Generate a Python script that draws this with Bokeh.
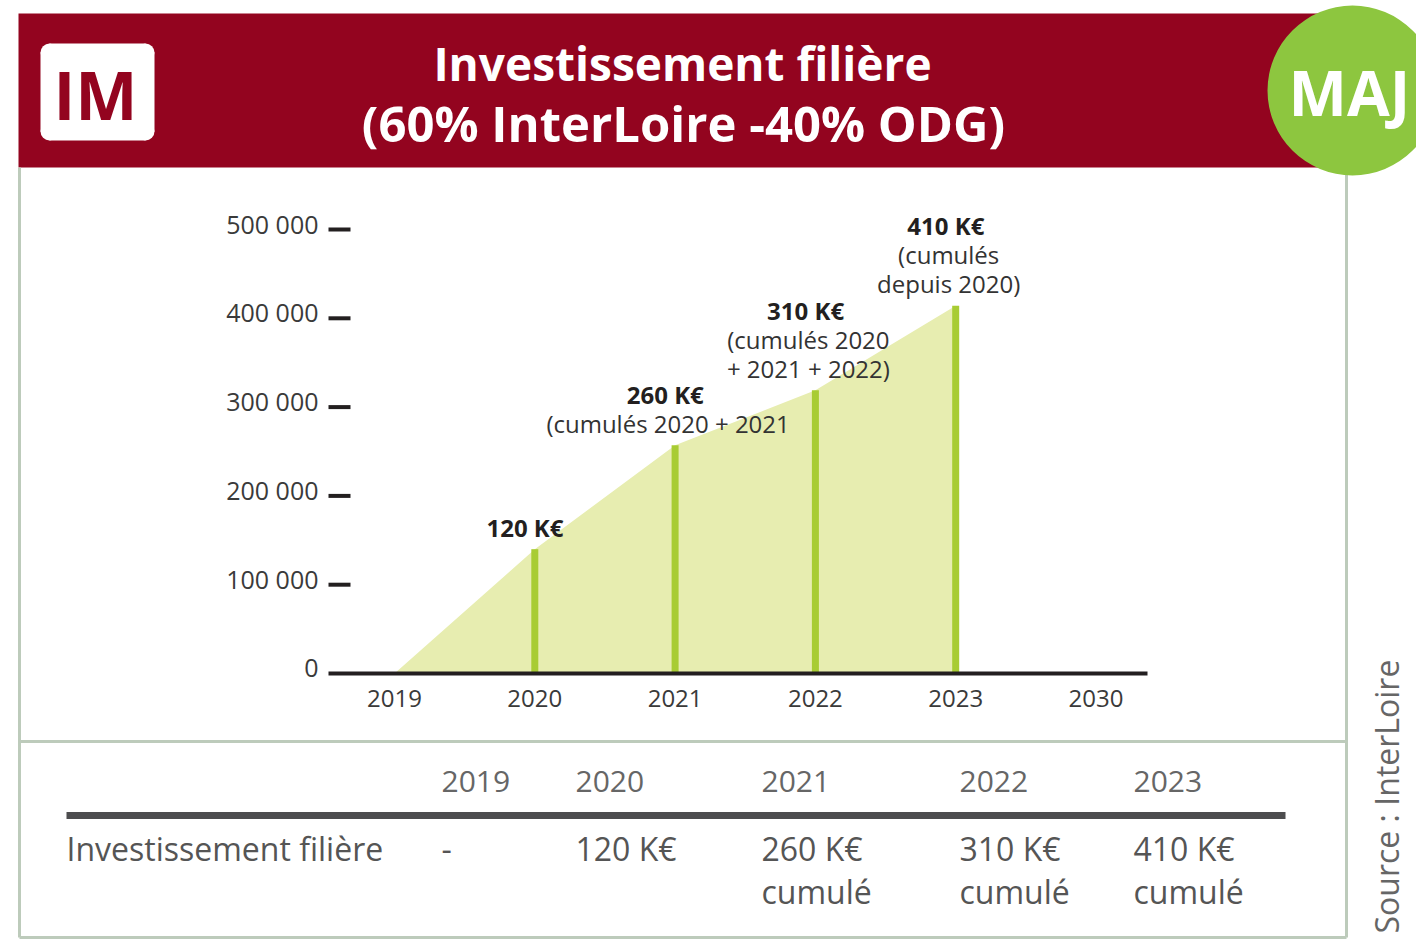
import math
from bokeh.plotting import figure
from bokeh.models import Range1d
from bokeh.core.properties import value
from bokeh.embed import file_html
from bokeh.resources import INLINE

# ---------------- data ----------------
years_axis = ["2019", "2020", "2021", "2022", "2023", "2030"]
bar_years = ["2020", "2021", "2022", "2023"]
# cumulative investment as drawn (bar heights)
cumul_drawn = [140000, 257000, 319000, 414000]
bar_labels = ["120 K€", "260 K€", "310 K€", "410 K€"]
bar_notes = [[], ["(cumulés 2020 + 2021"], ["(cumulés 2020", "+ 2021 + 2022)"], ["(cumulés", "depuis 2020)"]]
y_ticks = [0, 100000, 200000, 300000, 400000, 500000]
y_tick_labels = ["0", "100 000", "200 000", "300 000", "400 000", "500 000"]

table_years = ["2019", "2020", "2021", "2022", "2023"]
table_row_label = "Investissement filière"
table_values = ["-", "120 K€", "260 K€", "310 K€", "410 K€"]
table_values2 = ["", "", "cumulé", "cumulé", "cumulé"]

title1 = "Investissement filière"
title2 = "(60% InterLoire -40% ODG)"
source = "Source : InterLoire"

# ---------------- layout constants ----------------
W, H = 1416, 939
RED = "#93041F"
GREEN = "#8DC63F"
BAR = "#A8CC33"
AREA = "#E7EDB0"
BORDER = "#BDCBBB"
DARK = "#231F20"
GREY = "#555555"
FONT = value("Open Sans")

# chart pixel anchors (page coordinates)
X0_PX, XSTEP_PX = 394.0, 140.3      # position of first year label, spacing
Y0_PX, Y100K_PX = 673.0, 88.8       # baseline and pixels per 100 000

p = figure(width=W, height=H, output_backend="svg", toolbar_location=None,
           x_range=Range1d(0, W), y_range=Range1d(H, 0),
           x_axis_type=None, y_axis_type=None, min_border=0)
p.grid.visible = False
p.outline_line_color = None
p.background_fill_color = "white"
p.border_fill_color = "white"

# extra ranges for the data (mapped onto the full frame)
per_px = 100000.0 / Y100K_PX
p.extra_y_ranges = {"val": Range1d((Y0_PX - H) * per_px, Y0_PX * per_px)}
p.extra_x_ranges = {"idx": Range1d((0 - X0_PX) / XSTEP_PX, (W - X0_PX) / XSTEP_PX)}

# ---------------- frame / header ----------------
p.quad(left=18, right=1320, top=13, bottom=167, fill_color=RED, line_color=None)
# body borders
p.segment(x0=[19, 1346, 19, 19], y0=[167, 172, 937, 741],
          x1=[19, 1346, 1346, 1346], y1=[937, 937, 937, 741],
          line_color=BORDER, line_width=3)
# green MAJ circle
p.circle(x=[1352], y=[90], radius=85, fill_color=GREEN, line_color=None)
p.text(x=[1349], y=[91], text=["MAJ"], text_font=FONT, text_font_style="bold",
       text_font_size="62px", text_color="white", text_align="center", text_baseline="middle")

# IM logo (rounded white box)
r = 9
lx0, lx1, ly0, ly1 = 40, 154, 43, 140
p.quad(left=lx0 + r, right=lx1 - r, top=ly0, bottom=ly1, fill_color="white", line_color=None)
p.quad(left=lx0, right=lx1, top=ly0 + r, bottom=ly1 - r, fill_color="white", line_color=None)
p.circle(x=[lx0 + r, lx1 - r, lx0 + r, lx1 - r], y=[ly0 + r, ly0 + r, ly1 - r, ly1 - r],
         radius=r, fill_color="white", line_color=None)
p.text(x=[95], y=[93], text=["IM"], text_font=FONT, text_font_style="bold",
       text_font_size="66px", text_color=RED, text_align="center", text_baseline="middle")

# title
p.text(x=[682], y=[62], text=[title1], text_font=FONT, text_font_style="bold",
       text_font_size="46px", text_color="white", text_align="center", text_baseline="middle")
p.text(x=[683], y=[122], text=[title2], text_font=FONT, text_font_style="bold",
       text_font_size="49px", text_color="white", text_align="center", text_baseline="middle")

# ---------------- chart ----------------
bar_idx = [years_axis.index(y) for y in bar_years]
area_x = [0] + bar_idx
area_y = [0] + cumul_drawn
p.varea(x=area_x, y1=[0] * len(area_x), y2=area_y, fill_color=AREA,
        x_range_name="idx", y_range_name="val")
p.vbar(x=bar_idx, top=cumul_drawn, bottom=0, width=7 / XSTEP_PX, fill_color=BAR, line_color=None,
       x_range_name="idx", y_range_name="val")

# baseline
p.segment(x0=[(328 - X0_PX) / XSTEP_PX], x1=[(1147 - X0_PX) / XSTEP_PX], y0=[0], y1=[0],
          line_color=DARK, line_width=4, x_range_name="idx", y_range_name="val")
# y ticks (short dashes) and labels
p.segment(x0=[328] * (len(y_ticks) - 1), x1=[350] * (len(y_ticks) - 1), y0=y_ticks[1:], y1=y_ticks[1:],
          line_color=DARK, line_width=4, y_range_name="val")
p.text(x=[318] * len(y_ticks), y=y_ticks, text=y_tick_labels, text_font=FONT,
       text_font_size="25px", text_color="#3A3A3A", text_align="right", text_baseline="middle",
       y_offset=-6, y_range_name="val")
# x labels
p.text(x=list(range(len(years_axis))), y=[0] * len(years_axis), text=years_axis, text_font=FONT,
       text_font_size="24px", text_color="#3A3A3A", text_align="center", text_baseline="middle",
       y_offset=25, x_range_name="idx", y_range_name="val")

# bar annotations
LINE = 29
for i, (xi, v, lab, notes) in enumerate(zip(bar_idx, cumul_drawn, bar_labels, bar_notes)):
    n = len(notes)
    top_off = -22 - LINE * n
    p.text(x=[xi - 0.07], y=[v], text=[lab], text_font=FONT, text_font_style="bold",
           text_font_size="24px", text_color=DARK, text_align="center", text_baseline="middle",
           y_offset=top_off, x_range_name="idx", y_range_name="val")
    for k, note in enumerate(notes):
        p.text(x=[xi - 0.05], y=[v], text=[note], text_font=FONT,
               text_font_size="24px", text_color="#333333", text_align="center", text_baseline="middle",
               y_offset=top_off + LINE * (k + 1), x_range_name="idx", y_range_name="val")

# ---------------- table ----------------
col_left = [441, 575, 761, 959, 1133]
p.text(x=col_left, y=[781] * 5, text=table_years, text_font=FONT, text_font_size="30px",
       text_color="#666666", text_align="left", text_baseline="middle")
p.segment(x0=[66], x1=[1285], y0=[815], y1=[815], line_color="#4D4D4F", line_width=7)
p.text(x=[66], y=[848], text=[table_row_label], text_font=FONT, text_font_size="32px",
       text_color=GREY, text_align="left", text_baseline="middle")
p.text(x=col_left, y=[848] * 5, text=table_values, text_font=FONT, text_font_size="32px",
       text_color=GREY, text_align="left", text_baseline="middle")
p.text(x=col_left, y=[891] * 5, text=table_values2, text_font=FONT, text_font_size="32px",
       text_color=GREY, text_align="left", text_baseline="middle")

# source (vertical)
p.text(x=[1386], y=[933], text=[source], text_font=FONT, text_font_size="32px",
       text_color="#666666", text_align="left", text_baseline="middle", angle=math.pi / 2)

open("out.html", "w").write(file_html(p, INLINE))
